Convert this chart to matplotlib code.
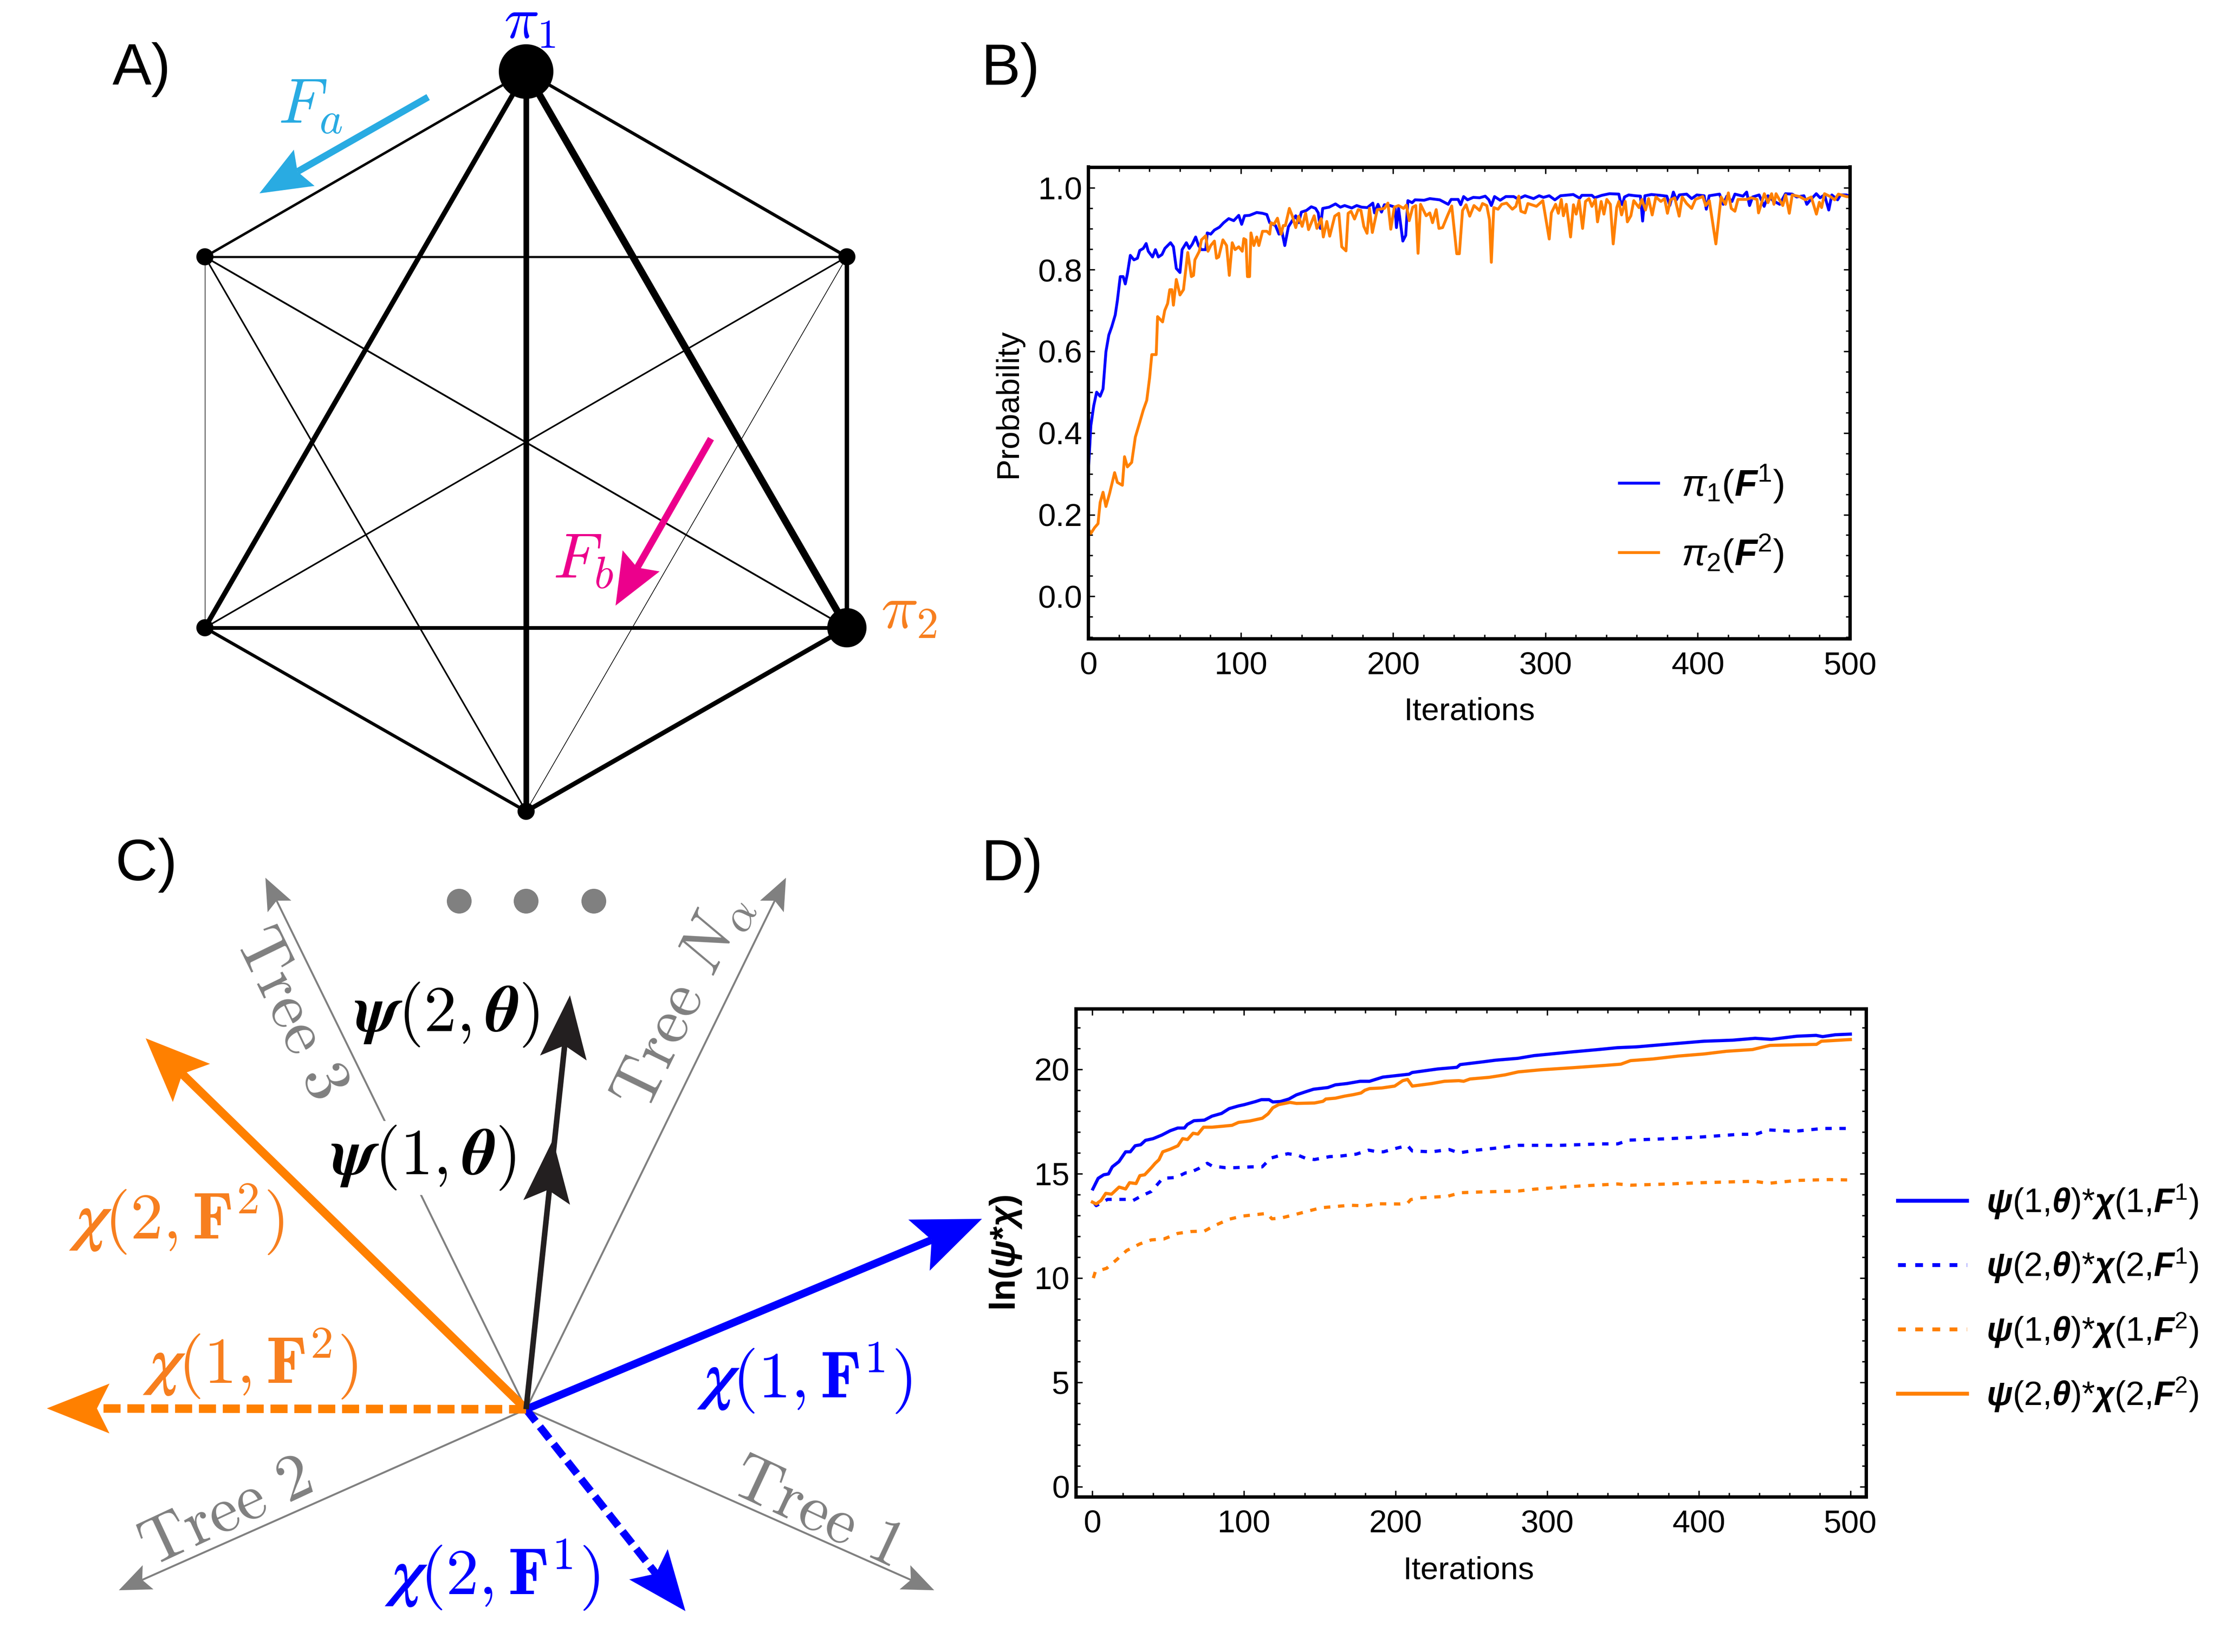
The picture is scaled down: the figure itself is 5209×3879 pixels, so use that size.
import numpy as np
import matplotlib
matplotlib.use('Agg')
import matplotlib.pyplot as plt
from matplotlib.patches import Polygon, Circle
from matplotlib.font_manager import FontProperties
from matplotlib.ticker import MultipleLocator, FormatStrFormatter

plt.rcParams['font.family'] = ['Liberation Sans', 'DejaVu Sans']
plt.rcParams['mathtext.fontset'] = 'cm'
for k, v in [('mathtext.rm', 'Liberation Sans'), ('mathtext.it', 'Liberation Sans:italic'),
             ('mathtext.bf', 'Liberation Sans:bold'), ('mathtext.bfit', 'Liberation Sans:bold:italic'),
             ('mathtext.sf', 'Liberation Sans')]:
    try:
        plt.rcParams[k] = v
    except KeyError:
        pass

# ---------------- data: panel B ----------------
b_iter_blue = [0, 1.6, 3.5, 5.4, 7.7, 9.6, 11.5, 13.4, 15.3, 17.6, 19, 20.9, 22.8, 24.2, 25.6, 27.5, 29.9, 32.2,
               33.7, 36, 37.9, 39.3, 42.1, 44, 45.9, 48.3, 50.2, 53.9, 55.8, 57.7, 60.1, 61.5, 64.3, 66.2, 68.1,
               70.4, 72.3, 74.2, 77, 78, 80.3, 82.7, 86, 88.8, 92.1, 95.4, 98.7, 100.6, 102.5, 105.8, 110.5, 114.3,
               117.1, 119, 122.8, 125.1, 127, 128.9, 131.3, 133.8, 136.1, 138, 139.8, 143.1, 146.3, 149.1, 150.9,
               152.2, 153.8, 158, 162.2, 165.4, 168.2, 172.9, 176.1, 179.4, 183.1, 186.7, 187.8, 190.1, 192.4,
               194.3, 198, 201.3, 202.2, 203.6, 206.4, 208.3, 209.7, 212.5, 214.4, 220.4, 224.1, 230.6, 236.2,
               238.1, 242.7, 244.4, 246.3, 248.9, 252.6, 256.8, 260.5, 262.9, 264.5, 266.6, 270.3, 274, 279.2,
               282, 286.6, 292.2, 295.9, 298.7, 302.5, 306.2, 309.9, 318.3, 322.5, 323.9, 330.5, 332.3, 337,
               342.1, 348.2, 349.1, 350.5, 351.9, 354.7, 359, 362.4, 363.8, 365.3, 369.6, 375.4, 379.7, 381.6,
               384, 386, 387.9, 392.7, 396, 399.4, 404.2, 405.6, 407.5, 414.3, 416.7, 419.1, 422.5, 424.4, 429.7,
               432.1, 434, 436, 440.3, 443.6, 446.1, 449.4, 453.8, 457.6, 462, 464.9, 469.7, 471.6, 474, 477.8,
               480.3, 483.2, 486, 488, 491.8, 493.7, 497.6, 500]
b_prob_blue = [0.307, 0.418, 0.467, 0.50, 0.49, 0.508, 0.599, 0.64, 0.66, 0.689, 0.724, 0.783, 0.783, 0.765, 0.79,
               0.835, 0.824, 0.828, 0.847, 0.852, 0.864, 0.845, 0.831, 0.849, 0.831, 0.837, 0.852, 0.866, 0.856,
               0.803, 0.793, 0.849, 0.866, 0.852, 0.862, 0.88, 0.859, 0.849, 0.849, 0.89, 0.887, 0.897, 0.904,
               0.915, 0.925, 0.92, 0.933, 0.911, 0.932, 0.933, 0.94, 0.938, 0.935, 0.915, 0.908, 0.887, 0.894,
               0.859, 0.905, 0.920, 0.932, 0.915, 0.941, 0.945, 0.954, 0.950, 0.939, 0.901, 0.950, 0.953, 0.961,
               0.953, 0.957, 0.951, 0.957, 0.953, 0.952, 0.963, 0.939, 0.960, 0.941, 0.959, 0.957, 0.953, 0.903,
               0.950, 0.870, 0.884, 0.969, 0.964, 0.971, 0.970, 0.974, 0.971, 0.960, 0.972, 0.972, 0.959, 0.979,
               0.971, 0.977, 0.976, 0.980, 0.971, 0.957, 0.979, 0.970, 0.979, 0.979, 0.973, 0.981, 0.974, 0.981,
               0.977, 0.981, 0.971, 0.981, 0.984, 0.975, 0.982, 0.982, 0.976, 0.982, 0.986, 0.985, 0.969, 0.959,
               0.978, 0.983, 0.981, 0.980, 0.919, 0.981, 0.984, 0.982, 0.980, 0.957, 0.990, 0.971, 0.983, 0.985,
               0.974, 0.983, 0.981, 0.948, 0.981, 0.985, 0.960, 0.980, 0.967, 0.985, 0.980, 0.990, 0.957, 0.978,
               0.983, 0.955, 0.981, 0.969, 0.960, 0.986, 0.985, 0.978, 0.981, 0.960, 0.971, 0.986, 0.976, 0.983,
               0.946, 0.983, 0.971, 0.983, 0.983, 0.980]
b_iter_orange = [0, 1.6, 4, 6.3, 7.7, 9.6, 11.5, 13.9, 17.2, 19, 22.3, 23.7, 25.6, 28.4, 30.8, 33.6, 36, 38.3, 40.2,
                 41.6, 44.5, 45.4, 48.7, 50.1, 52, 53.4, 54.8, 55.8, 57.7, 60.1, 62.4, 65.2, 67.6, 69, 69.9, 72.8,
                 74.2, 77, 78.5, 80.3, 82.7, 84.1, 85.5, 88.3, 90.7, 92.5, 94.4, 96.3, 98.7, 101, 102, 103.4, 104.4,
                 105.8, 106.7, 108.6, 110.5, 111.9, 114.3, 117.1, 119, 119.9, 121.8, 124.1, 126.5, 127.9, 129.3,
                 131.9, 133.8, 136.1, 138, 140.3, 142.6, 144.5, 148.2, 150, 152.8, 154.2, 156.5, 158.4, 161.7,
                 164.4, 166.3, 169.1, 170.5, 172.4, 174.7, 177.1, 178.9, 180.8, 182.9, 184.5, 186.4, 189.6, 194.3,
                 196.6, 198.5, 200.8, 203.6, 206.9, 208.7, 210.6, 212.9, 214.9, 216.4, 218, 221.7, 224.1, 225.9,
                 228.3, 230.1, 232.5, 235.7, 238.5, 241.8, 243.5, 245.6, 247.9, 250.3, 253.1, 256.8, 258.7, 261.5,
                 263.3, 264.5, 266.1, 268.9, 271.3, 274.5, 278.3, 280.6, 282.5, 283.9, 286.7, 288.5, 294.1, 298.3,
                 302.5, 303.9, 306.7, 308.5, 310.4, 311.8, 313.7, 316.5, 318.4, 320.2, 322.1, 324.4, 326.3, 328.6,
                 330.5, 332.8, 334.2, 336.6, 338.4, 340.3, 342.6, 344.5, 346.8, 348.2, 350, 352.4, 353.8, 356.1,
                 358, 361.4, 363.3, 365.7, 367.7, 370.1, 372.5, 375.8, 378.2, 380.1, 382.1, 384.9, 387.8, 389.8,
                 392.7, 396, 398.5, 403.3, 405.2, 407.6, 411.9, 415.3, 418.2, 420.1, 422, 424.4, 426.4, 432.1, 435,
                 438.9, 439.9, 443.7, 446.1, 448.5, 450, 451.4, 455.8, 457.7, 460.1, 462, 466.8, 470.7, 474.5, 477.9,
                 479.8, 481.3, 483.2, 487, 489.9, 492.3, 497.6, 500]
b_prob_orange = [0.165, 0.154, 0.168, 0.178, 0.23, 0.255, 0.22, 0.252, 0.303, 0.279, 0.272, 0.342, 0.317, 0.328,
                 0.39, 0.425, 0.456, 0.48, 0.536, 0.592, 0.592, 0.685, 0.672, 0.70, 0.717, 0.751, 0.751, 0.713,
                 0.776, 0.738, 0.751, 0.842, 0.783, 0.786, 0.824, 0.845, 0.873, 0.883, 0.845, 0.859, 0.87, 0.828,
                 0.831, 0.873, 0.859, 0.786, 0.866, 0.849, 0.856, 0.845, 0.876, 0.873, 0.783, 0.783, 0.89, 0.859,
                 0.88, 0.859, 0.894, 0.894, 0.887, 0.915, 0.911, 0.926, 0.887, 0.908, 0.908, 0.950, 0.932, 0.903,
                 0.931, 0.906, 0.938, 0.898, 0.932, 0.901, 0.925, 0.880, 0.918, 0.882, 0.931, 0.938, 0.856, 0.846,
                 0.938, 0.943, 0.924, 0.947, 0.945, 0.906, 0.889, 0.950, 0.891, 0.947, 0.950, 0.963, 0.899, 0.953,
                 0.957, 0.950, 0.958, 0.920, 0.953, 0.957, 0.840, 0.960, 0.932, 0.939, 0.915, 0.947, 0.901, 0.903,
                 0.932, 0.956, 0.839, 0.839, 0.945, 0.959, 0.931, 0.957, 0.945, 0.962, 0.957, 0.922, 0.818, 0.952,
                 0.948, 0.960, 0.963, 0.948, 0.955, 0.980, 0.943, 0.939, 0.962, 0.955, 0.969, 0.875, 0.939, 0.960,
                 0.938, 0.972, 0.932, 0.960, 0.880, 0.959, 0.936, 0.970, 0.901, 0.967, 0.974, 0.955, 0.972, 0.917,
                 0.967, 0.936, 0.972, 0.960, 0.863, 0.952, 0.967, 0.934, 0.967, 0.917, 0.932, 0.969, 0.952, 0.972,
                 0.946, 0.974, 0.934, 0.978, 0.967, 0.974, 0.938, 0.971, 0.976, 0.931, 0.978, 0.962, 0.950, 0.972,
                 0.979, 0.957, 0.969, 0.863, 0.978, 0.960, 0.988, 0.950, 0.943, 0.972, 0.972, 0.976, 0.972, 0.939,
                 0.986, 0.964, 0.986, 0.960, 0.986, 0.957, 0.983, 0.938, 0.983, 0.979, 0.971, 0.978, 0.936, 0.965,
                 0.952, 0.986, 0.979, 0.971, 0.985, 0.979, 0.978]
b_labels = [r'$\pi_1(\boldsymbol{F}^1)$', r'$\pi_2(\boldsymbol{F}^2)$']

# ---------------- data: panel D ----------------
d_iter_b1 = [0.3, 3.8, 7.5, 10.6, 13.1, 17.5, 21.9, 25, 28.2, 31.9, 35, 40, 45.7, 51.3, 56.3, 60.7, 62.6, 67, 73.9,
             78.9, 85.2, 90.2, 96.4, 100.2, 107.7, 111.5, 116.5, 119, 124, 129.6, 134.6, 140.3, 145.9, 155.3, 160.3,
             167.8, 176.6, 182.8, 191.6, 208.9, 210.9, 227.8, 240.5, 242.6, 257.4, 265.9, 280.7, 291.3, 316.7,
             333.6, 346.3, 359, 380.1, 403.4, 422.4, 437.2, 447.8, 464.7, 477.4, 481.7, 490.1, 500]
d_val_b1 = [14.27, 14.78, 14.95, 14.99, 15.33, 15.58, 16.05, 16.05, 16.34, 16.39, 16.6, 16.68, 16.85, 17.06, 17.19,
            17.19, 17.36, 17.54, 17.57, 17.76, 17.89, 18.12, 18.25, 18.31, 18.46, 18.55, 18.55, 18.44, 18.46, 18.58,
            18.78, 18.92, 19.05, 19.13, 19.26, 19.32, 19.43, 19.43, 19.63, 19.77, 19.85, 20.02, 20.1, 20.23, 20.36,
            20.44, 20.53, 20.66, 20.84, 20.95, 21.04, 21.08, 21.21, 21.35, 21.4, 21.49, 21.44, 21.59, 21.63, 21.57,
            21.66, 21.69]
d_iter_b2 = [1.2, 2.5, 10, 17.5, 25, 26.9, 32.5, 38.8, 46.4, 55.1, 61.4, 63.9, 70.1, 75.8, 78.9, 87.7, 93.9, 105.2,
             112, 117.7, 124, 129, 135.9, 140.3, 146.5, 156.5, 164, 174.1, 182.2, 187.9, 192, 200.5, 207.9, 211,
             223.7, 235.4, 241.7, 253.4, 270.3, 280.9, 308.4, 335.9, 346.5, 353.9, 380.4, 401.5, 426.9, 437.5, 446,
             462.9, 481.9, 500]
d_val_b2 = [13.6, 13.47, 13.77, 13.77, 13.77, 13.72, 13.94, 14.15, 14.78, 14.82, 15.04, 15.04, 15.25, 15.5, 15.37,
            15.29, 15.29, 15.33, 15.33, 15.75, 15.88, 15.96, 15.88, 15.75, 15.68, 15.82, 15.85, 15.94, 16.13, 16.05,
            16.05, 16.22, 16.35, 16.09, 16.05, 16.16, 16.0, 16.13, 16.26, 16.36, 16.36, 16.43, 16.43, 16.61, 16.68,
            16.76, 16.89, 16.89, 17.1, 17.03, 17.17, 17.17]
d_iter_o1 = [0.6, 1.9, 9.4, 16.3, 22.6, 31.4, 38.9, 47, 56.3, 65.1, 73.9, 80.1, 90.2, 98.9, 109, 115.2, 118.4, 124,
             134, 142.8, 150.9, 160.3, 170.3, 179.7, 188.4, 202.6, 207.9, 210, 215.3, 234.4, 242.8, 257.6, 280.9,
             291.5, 316.8, 346.5, 354.9, 380.4, 401.5, 436.4, 446, 465, 486.2, 500]
d_val_o1 = [10.0, 10.3, 10.47, 10.9, 11.32, 11.64, 11.83, 11.87, 12.14, 12.23, 12.25, 12.5, 12.82, 12.97, 13.05,
            13.1, 12.84, 12.87, 13.05, 13.22, 13.37, 13.43, 13.49, 13.46, 13.56, 13.55, 13.59, 13.76, 13.84, 13.92,
            14.09, 14.13, 14.17, 14.26, 14.39, 14.51, 14.45, 14.51, 14.57, 14.64, 14.54, 14.68, 14.72, 14.7]
d_iter_o2 = [0, 2.5, 5.7, 8.8, 12.6, 17.6, 21.9, 24.5, 28.8, 31.3, 34.5, 38.9, 41.4, 43.9, 46.4, 51.4, 56.4, 59.5,
             62.7, 66.4, 69.6, 73.3, 78.9, 86.5, 92.1, 96.4, 104, 112.1, 115.9, 119, 122.8, 130.3, 134.6, 146.5,
             152.1, 154, 160.3, 166.5, 172.2, 177.2, 179.7, 182.8, 190.9, 199.4, 204.7, 207.9, 211, 223.7, 232.2,
             241.7, 244.9, 249.1, 261.8, 272.4, 280.9, 295.7, 316.8, 338, 348.6, 355, 369.8, 386.7, 403.6, 418.4,
             435.4, 447, 465, 477.7, 480.9, 500]
d_val_o2 = [13.64, 13.55, 13.72, 14.06, 14.02, 14.36, 14.27, 14.57, 14.53, 14.91, 14.95, 15.29, 15.5, 15.67, 16.05,
            16.18, 16.34, 16.68, 16.64, 16.94, 16.9, 17.23, 17.23, 17.28, 17.32, 17.46, 17.53, 17.66, 17.87, 18.16,
            18.31, 18.42, 18.37, 18.39, 18.47, 18.58, 18.62, 18.72, 18.79, 18.87, 19.0, 19.08, 19.11, 19.2, 19.46,
            19.52, 19.2, 19.32, 19.43, 19.46, 19.43, 19.54, 19.62, 19.74, 19.88, 19.98, 20.08, 20.19, 20.25, 20.42,
            20.5, 20.64, 20.74, 20.87, 20.95, 21.15, 21.18, 21.2, 21.35, 21.43]
d_labels = [r'$\boldsymbol{\psi}(1{,}\boldsymbol{\theta}){*}\boldsymbol{\chi}(1{,}\boldsymbol{F}^1)$',
            r'$\boldsymbol{\psi}(2{,}\boldsymbol{\theta}){*}\boldsymbol{\chi}(2{,}\boldsymbol{F}^1)$',
            r'$\boldsymbol{\psi}(1{,}\boldsymbol{\theta}){*}\boldsymbol{\chi}(1{,}\boldsymbol{F}^2)$',
            r'$\boldsymbol{\psi}(2{,}\boldsymbol{\theta}){*}\boldsymbol{\chi}(2{,}\boldsymbol{F}^2)$']

BLUE = '#0000FF'
ORANGE = '#FF8000'
LORANGE = '#F77F1F'
GRAY = '#808080'

W, H = 5209, 3879
fig = plt.figure(figsize=(W / 300, H / 300), dpi=300)

# overlay axes in pixel coordinates for the diagrams
ax0 = fig.add_axes([0, 0, 1, 1])
ax0.set_xlim(0, W)
ax0.set_ylim(H, 0)
ax0.axis('off')

PT = 72 / 300.0  # points per pixel


def stealth(ax, tail, tip, color, lw_px, hl, hw, ls='-', z=3, notch=0.8, draw_line=True, capstyle='butt'):
    tail = np.asarray(tail, float)
    tip = np.asarray(tip, float)
    d = tip - tail
    u = d / np.hypot(*d)
    n = np.array([-u[1], u[0]])
    base = tip - u * hl
    nt = tip - u * hl * notch
    if draw_line:
        ax.plot([tail[0], nt[0]], [tail[1], nt[1]], color=color, lw=lw_px * PT, ls=ls,
                solid_capstyle='butt', dash_capstyle=capstyle, zorder=z)
    ax.add_patch(Polygon([tip, base + n * hw / 2, nt, base - n * hw / 2], closed=True,
                         facecolor=color, edgecolor='none', zorder=z + 0.1))


# ---------------- Panel A ----------------
nodes = {'T': (1235, 168), 'UL': (481, 603), 'UR': (1988, 603),
         'LL': (481, 1474), 'LR': (1988, 1474), 'B': (1235, 1905)}
edges = [('T', 'UL', 1.4), ('T', 'UR', 1.8), ('T', 'LL', 2.8), ('T', 'LR', 4.0), ('T', 'B', 3.2),
         ('UL', 'UR', 1.2), ('UL', 'LL', 0.35), ('UL', 'LR', 1.0), ('UL', 'B', 0.9), ('UR', 'LL', 0.9),
         ('UR', 'LR', 2.5), ('UR', 'B', 0.4), ('LL', 'LR', 2.1), ('LL', 'B', 1.8), ('LR', 'B', 2.6)]
for a, b, w in edges:
    (x1, y1), (x2, y2) = nodes[a], nodes[b]
    ax0.plot([x1, x2], [y1, y2], color='black', lw=w, solid_capstyle='round', zorder=2)
node_r = {'T': 62, 'LR': 44, 'UL': 18, 'UR': 18, 'LL': 18, 'B': 18}
for k, (x, y) in nodes.items():
    ax0.add_patch(Circle((x, y), node_r[k], color='black', zorder=4))

stealth(ax0, (1005, 228), (609, 454), '#29ABE2', 16, 121, 98, notch=0.85, z=5)
stealth(ax0, (1669, 1030), (1445, 1422), '#EC008C', 16, 121, 100, notch=0.85, z=5)
ax0.text(1243, 90, r'$\pi_1$', color=BLUE, fontsize=33, ha='center', va='baseline', zorder=6)
ax0.text(2068, 1474, r'$\pi_2$', color=LORANGE, fontsize=35, ha='left', va='baseline', zorder=6)
ax0.text(653, 288, r'$F_a$', color='#29ABE2', fontsize=36, ha='left', va='baseline', zorder=6)
ax0.text(1298, 1356, r'$F_b$', color='#EC008C', fontsize=36, ha='left', va='baseline', zorder=6)

for lab, (x, y) in [('A)', (264, 199)), ('B)', (2304, 199)), ('C)', (271, 2067)), ('D)', (2304, 2067))]:
    ax0.text(x, y, lab, fontsize=33, ha='left', va='baseline', color='black',
             family=['Liberation Sans', 'DejaVu Sans'])

# ---------------- Panel C ----------------
O = (1235, 3309)
# trees (gray)
stealth(ax0, O, (2193, 3734), GRAY, 4.5, 75, 62, z=1)
stealth(ax0, O, (279, 3734), GRAY, 4.5, 75, 62, z=1)
stealth(ax0, O, (623, 2061), GRAY, 4.5, 75, 62, z=1)
stealth(ax0, O, (1845, 2061), GRAY, 4.5, 75, 62, z=1)
for x in (1078, 1235, 1394):
    ax0.add_patch(Circle((x, 2116), 27, color=GRAY, zorder=1))

tree_fs = 37
for txt, (x, y), rot in [(r'$\mathrm{Tree}\ 1$', (1915, 3553), -25),
                         (r'$\mathrm{Tree}\ 2$', (531, 3553), 25),
                         (r'$\mathrm{Tree}\ 3$', (681, 2380), -64),
                         (r'$\mathrm{Tree}\ N_\alpha$', (1601, 2352), 64)]:
    ax0.text(x, y, txt, color=GRAY, fontsize=tree_fs, rotation=rot, ha='center', va='center',
             rotation_mode='anchor')

# colored arrows
stealth(ax0, O, (2305, 2862), BLUE, 18, 160, 130, z=4)
stealth(ax0, O, (1609, 3783), BLUE, 18, 140, 115, ls=(0, (2.0, 0.9)), z=4)
stealth(ax0, O, (342, 2438), ORANGE, 20, 150, 125, z=4)
stealth(ax0, O, (110, 3307), ORANGE, 20, 147, 117, ls=(0, (2.0, 0.8)), z=4)
# psi arrows (black)
stealth(ax0, O, (1338, 2337), '#231F20', 13, 148, 110, z=5)
stealth(ax0, O, (1298, 2676), '#231F20', 13, 148, 110, z=5, draw_line=False)

cfs = 37
ax0.text(1049, 2383, r'$\boldsymbol{\psi}(2,\boldsymbol{\theta})$', color='black', fontsize=cfs,
         ha='center', va='center', zorder=6)
ax0.text(994, 2719, r'$\boldsymbol{\psi}(1,\boldsymbol{\theta})$', color='black', fontsize=cfs,
         ha='center', va='center', zorder=3,
         bbox=dict(facecolor='white', edgecolor='none', pad=2))
ax0.text(414, 2863, r'$\boldsymbol{\chi}(2,\mathbf{F}^2)$', color=LORANGE, fontsize=cfs,
         ha='center', va='center', zorder=6)
ax0.text(587, 3202, r'$\boldsymbol{\chi}(1,\mathbf{F}^2)$', color=LORANGE, fontsize=cfs,
         ha='center', va='center', zorder=6)
ax0.text(1888, 3235, r'$\boldsymbol{\chi}(1,\mathbf{F}^1)$', color=BLUE, fontsize=cfs,
         ha='center', va='center', zorder=6)
ax0.text(1155, 3697, r'$\boldsymbol{\chi}(2,\mathbf{F}^1)$', color=BLUE, fontsize=cfs,
         ha='center', va='center', zorder=6)


# ---------------- axes styling ----------------
def style(ax):
    for s in ax.spines.values():
        s.set_linewidth(1.9)
    ax.tick_params(which='both', direction='in', top=True, right=True, labelsize=18, width=0.8,
                   color='black')
    ax.tick_params(which='major', length=3.5)
    ax.tick_params(which='minor', length=2.4)
    ax.tick_params(axis='y', which='both', pad=3.6)
    ax.tick_params(axis='x', which='both', pad=7)


# ---------------- Panel B ----------------
axB = fig.add_axes([2555 / W, 1 - 1500 / H, (4343 - 2555) / W, (1500 - 392.5) / H])
axB.plot(b_iter_blue, b_prob_blue, color=BLUE, lw=1.6, label=b_labels[0])
axB.plot(b_iter_orange, b_prob_orange, color=ORANGE, lw=1.6, label=b_labels[1])
axB.set_xlim(0, 500)
axB.set_ylim(-0.104, 1.051)
axB.xaxis.set_major_locator(MultipleLocator(100))
axB.xaxis.set_minor_locator(MultipleLocator(20))
axB.yaxis.set_major_locator(MultipleLocator(0.2))
axB.yaxis.set_minor_locator(MultipleLocator(0.05))
axB.yaxis.set_major_formatter(FormatStrFormatter('%.1f'))
style(axB)
axB.set_xlabel('Iterations', fontsize=18)
axB.set_ylabel('Probability', fontsize=18)
axB.xaxis.set_label_coords(0.5, -0.123)
axB.yaxis.set_label_coords(-0.0856, 0.499)
legB = axB.legend(loc='center left', bbox_to_anchor=(0.697, 0.2545), frameon=False, borderpad=0,
                  borderaxespad=0, handlelength=1.05, handletextpad=0.62, labelspacing=0.75,
                  prop=FontProperties(family='Liberation Sans', size=21, math_fontfamily='custom'))

# ---------------- Panel D ----------------
axD = fig.add_axes([2525.6 / W, 1 - 3515 / H, (4380.6 - 2525.6) / W, (3515 - 2368.9) / H])
dot = (0, (2.0, 2.4))
axD.plot(d_iter_b1, d_val_b1, color=BLUE, lw=1.8, label=d_labels[0])
axD.plot(d_iter_b2, d_val_b2, color=BLUE, lw=1.8, ls=dot, label=d_labels[1])
axD.plot(d_iter_o1, d_val_o1, color=ORANGE, lw=1.8, ls=dot, label=d_labels[2])
axD.plot(d_iter_o2, d_val_o2, color=ORANGE, lw=1.8, label=d_labels[3])
axD.set_xlim(-10.9, 510.4)
axD.set_ylim(-0.49, 22.9)
axD.xaxis.set_major_locator(MultipleLocator(100))
axD.xaxis.set_minor_locator(MultipleLocator(20))
axD.yaxis.set_major_locator(MultipleLocator(5))
axD.yaxis.set_minor_locator(MultipleLocator(1))
style(axD)
axD.set_xlabel('Iterations', fontsize=18)
axD.set_ylabel(r'$\mathbf{ln(}\boldsymbol{\psi}\mathbf{*}\boldsymbol{\chi}\mathbf{)}$', fontsize=20,
               math_fontfamily='custom')
axD.xaxis.set_label_coords(0.4966, -0.121)
axD.yaxis.set_label_coords(-0.0666, 0.50)
legD = axD.legend(loc='center left', bbox_to_anchor=(1.040, 0.4075), frameon=False, borderpad=0,
                  borderaxespad=0, handlelength=2.05, handletextpad=0.58, labelspacing=0.78,
                  prop=FontProperties(family='Liberation Sans', size=19, math_fontfamily='custom'))
for lh in legD.get_lines():
    lh.set_linewidth(2.2)

fig.savefig('out.png', dpi=300)
